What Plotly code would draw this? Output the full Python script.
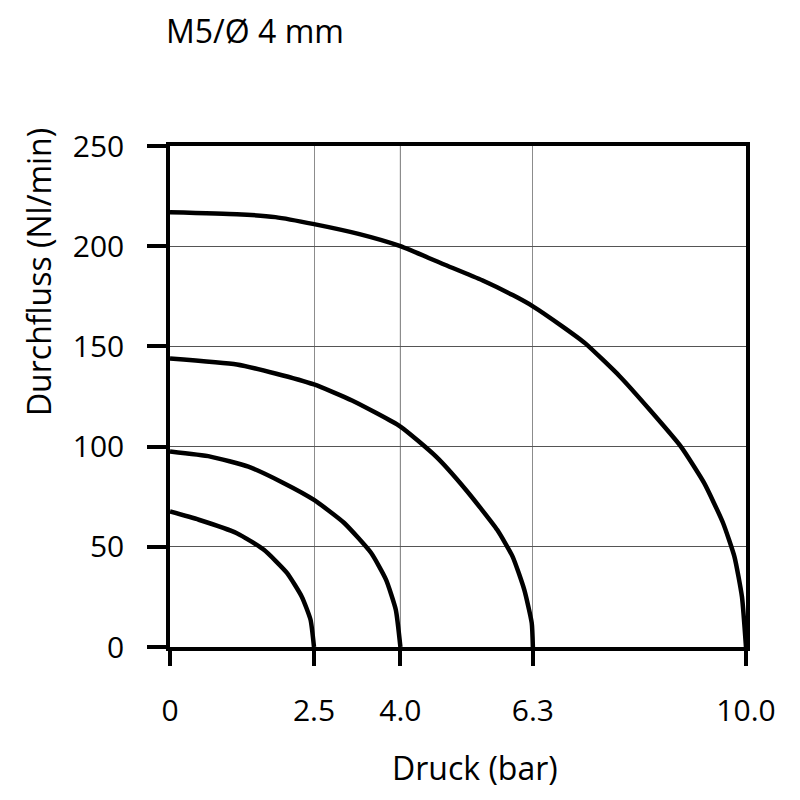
import plotly.graph_objects as go

# Data
p_25 = [0, 0.50, 1.16, 1.63, 2.03, 2.29, 2.44, 2.5]
q_25 = [67.6, 63.5, 56.8, 48.5, 37, 25, 13.6, 0]

p_40 = [0, 0.70, 1.36, 1.96, 2.5, 3.02, 3.49, 3.75, 3.92, 4.0]
q_40 = [97.5, 95, 90, 82, 73.4, 62, 47, 33.6, 18.6, 0]

p_63 = [0, 1.16, 1.83, 2.5, 3.16, 4.0, 4.62, 5.15, 5.68, 5.95, 6.15, 6.28, 6.3]
q_63 = [144, 141, 136.5, 131, 123, 110, 95, 78, 58.5, 45, 28.6, 12, 0]

p_100 = [0, 1.16, 1.83, 2.5, 3.29, 4.0, 4.75, 5.42, 5.95, 6.3, 6.81, 7.21, 7.81,
         8.34, 8.87, 9.27, 9.6, 9.8, 9.93, 10.0]
q_100 = [217, 216, 214.5, 211, 206, 200, 191, 183, 175.6, 170, 160, 151.5, 135,
         118, 100, 82, 62, 45, 25, 0]

x_ticks = [0, 2.5, 4.0, 6.3, 10.0]
x_tick_labels = ["0", "2.5", "4.0", "6.3", "10.0"]
y_ticks = [0, 50, 100, 150, 200, 250]

title_text = "M5/Ø 4 mm"
x_title = "Druck (bar)"
y_title = "Durchfluss (Nl/min)"

FONT = "Open Sans"

fig = go.Figure()
for px, qy in [(p_25, q_25), (p_40, q_40), (p_63, q_63), (p_100, q_100)]:
    fig.add_trace(go.Scatter(x=px, y=qy, mode="lines",
                             line=dict(color="black", width=4.5, shape="spline", smoothing=0.5),
                             showlegend=False, hoverinfo="skip", cliponaxis=True))

fig.add_shape(type="line", x0=4.0, x1=4.0, y0=0, y1=250, xref="x", yref="y",
              line=dict(color="#333333", width=1), layer="below")

fig.update_layout(
    width=800, height=800,
    margin=dict(l=162, r=62, t=138, b=161),
    paper_bgcolor="white", plot_bgcolor="white",
    font=dict(family=FONT, size=30, color="black"),
    xaxis=dict(range=[0, 10], tickvals=x_ticks, ticktext=x_tick_labels,
               showgrid=True, gridcolor="#8c8c8c", gridwidth=1,
               showline=True, linecolor="black", linewidth=3.5, mirror=True,
               ticks="outside", ticklen=15, tickwidth=3.5, tickcolor="black",
               ticklabelstandoff=19, zeroline=False,
               tickfont=dict(family=FONT, size=30)),
    yaxis=dict(range=[0, 250], tickvals=y_ticks,
               showgrid=True, gridcolor="#555555", gridwidth=1,
               showline=True, linecolor="black", linewidth=3.5, mirror=True,
               ticks="outside", ticklen=19, tickwidth=3.5, tickcolor="black",
               ticklabelstandoff=17, zeroline=False,
               tickfont=dict(family=FONT, size=30)),
    annotations=[
        dict(text=title_text, xref="paper", yref="paper", x=0.1476, y=1.2315,
             xanchor="center", yanchor="middle", showarrow=False,
             font=dict(family=FONT, size=32, color="black")),
        dict(text=y_title, xref="paper", yref="paper", x=-0.229, y=0.7485,
             xanchor="center", yanchor="middle", textangle=-90, showarrow=False,
             font=dict(family=FONT, size=32, color="black")),
        dict(text=x_title, xref="paper", yref="paper", x=0.5295, y=-0.2415,
             xanchor="center", yanchor="middle", showarrow=False,
             font=dict(family=FONT, size=32, color="black")),
    ],
)

fig.write_html("out.html")
